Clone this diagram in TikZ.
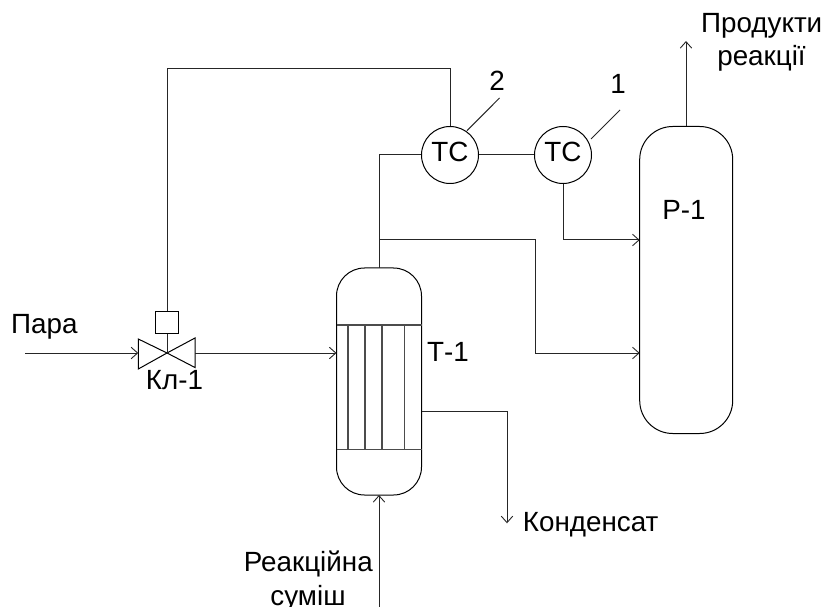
\documentclass[tikz,border=0pt]{standalone}
\usepackage{fontspec}
\setmainfont{Liberation Sans}
\usetikzlibrary{arrows.meta,calc}
\tikzset{
  pipe/.style={draw=black!85,line width=1pt},
  flow/.style={pipe,-{Straight Barb[length=6.5pt,width=11.5pt,line width=0.9pt]}},
  vessel/.style={draw=black,line width=1pt,rectangle,rounded corners=#1,minimum width=0,inner sep=0},
  tube/.style={draw=black!70,line width=1.4pt},
  ctrl/.style={circle,draw=black,line width=1pt,inner sep=0,minimum size=57pt},
  lbl/.style={inner sep=0,anchor=base,font=\fontsize{27.8}{30}\selectfont},
  box/.style={rectangle,draw=black,line width=1pt,inner sep=0,minimum width=22.5pt,minimum height=22pt}
}
\begin{document}
\begin{tikzpicture}[x=1pt,y=-1pt]
\useasboundingbox (0,0) rectangle (823,607);
% Vessels
\node[vessel=28pt,minimum width=85pt,minimum height=227pt] (T) at (379,381.5) {};
\node[vessel=33pt,minimum width=93pt,minimum height=307pt] (R) at (686.2,280) {};
% Tubes
\coordinate (tl) at (336.5,325); \coordinate (tr) at (421.5,325);
\coordinate (bl) at (336.5,449.7); \coordinate (br) at (421.5,449.7);
\draw[tube] (tl) -- (tr);
\draw[tube] (bl) -- (br);
\foreach \x in {348,365,382,404.5} \draw[tube] (\x,325) -- (\x,449.7);
% Controllers
\node[ctrl] (TC2) at (450,155) {};
\node[ctrl] (TC1) at (563,155) {};
\node[lbl] (ttc2) at (450,161.7) {TC};
\node[lbl] (ttc1) at (563,161.7) {TC};
% Valve
\coordinate (vc) at (167,353);
\coordinate (vl1) at (138.3,339); \coordinate (vl2) at (138.3,369);
\coordinate (vr1) at (195,338); \coordinate (vr2) at (195,367.5);
\draw[draw=black,line width=1pt,line join=miter] (vc) -- (vl1) -- (vl2) -- cycle;
\draw[draw=black,line width=1pt,line join=miter] (vc) -- (vr1) -- (vr2) -- cycle;
\node[box] (act) at (167,322) {};
\draw[pipe] (act.south) -- (vc);
% Control line
\coordinate (c1) at (450,69); \coordinate (c2) at (167,69);
\draw[pipe] (TC2.north) -- (c1) -- (c2) -- (act.north);
% Steam
\coordinate (steam) at (25,353);
\draw[flow] (steam) -- (138.3,353);
\draw[flow] (195,353) -- (336.5,353);
% Top of T-1 and links
\coordinate (tt) at (379,268); \coordinate (j) at (379,240); \coordinate (tw) at (379,155);
\draw[pipe] (tt) -- (tw) -- (TC2.west);
\draw[pipe] (TC2.east) -- (TC1.west);
\coordinate (a1) at (563,240); \coordinate (in1) at (639.7,240);
\draw[flow] (TC1.south) -- (a1) -- (in1);
\coordinate (b1) at (535,240); \coordinate (b2) at (535,353); \coordinate (in2) at (639.7,353);
\draw[flow] (j) -- (b1) -- (b2) -- (in2);
% Condensate
\coordinate (k0) at (421.5,411); \coordinate (k1) at (507,411); \coordinate (k2) at (507,523.3);
\draw[flow] (k0) -- (k1) -- (k2);
% Feed
\coordinate (f0) at (379,607); \coordinate (f1) at (379,495);
\draw[flow] (f0) -- (f1);
% Product
\coordinate (p0) at (686,126.5); \coordinate (p1) at (686,41);
\draw[flow] (p0) -- (p1);
% Leaders
\coordinate (l2a) at (467,130.7); \coordinate (l2b) at (499.5,98);
\coordinate (l1a) at (591,139); \coordinate (l1b) at (620,110);
\draw[pipe] (l2a) -- (l2b);
\draw[pipe] (l1a) -- (l1b);
% Labels
\node[lbl] (tpara) at (44.3,334) {Пара};
\node[lbl] (tkl) at (174.5,389) {Кл-1};
\node[lbl] (tt1) at (448,361.7) {Т-1};
\node[lbl] (tp1) at (684,220) {Р-1};
\node[lbl] (tn2) at (497,90.7) {2};
\node[lbl] (tn1) at (618,94) {1};
\node[lbl] (tkond) at (590.7,531.7) {Конденсат};
\node[lbl] (tprod) at (761.7,32.3) {Продукти};
\node[lbl] (treac) at (761.5,65.7) {реакції};
\node[lbl] (tr1) at (308.3,571.7) {Реакційна};
\node[lbl] (tr2) at (308,605) {суміш};
\end{tikzpicture}
\end{document}
